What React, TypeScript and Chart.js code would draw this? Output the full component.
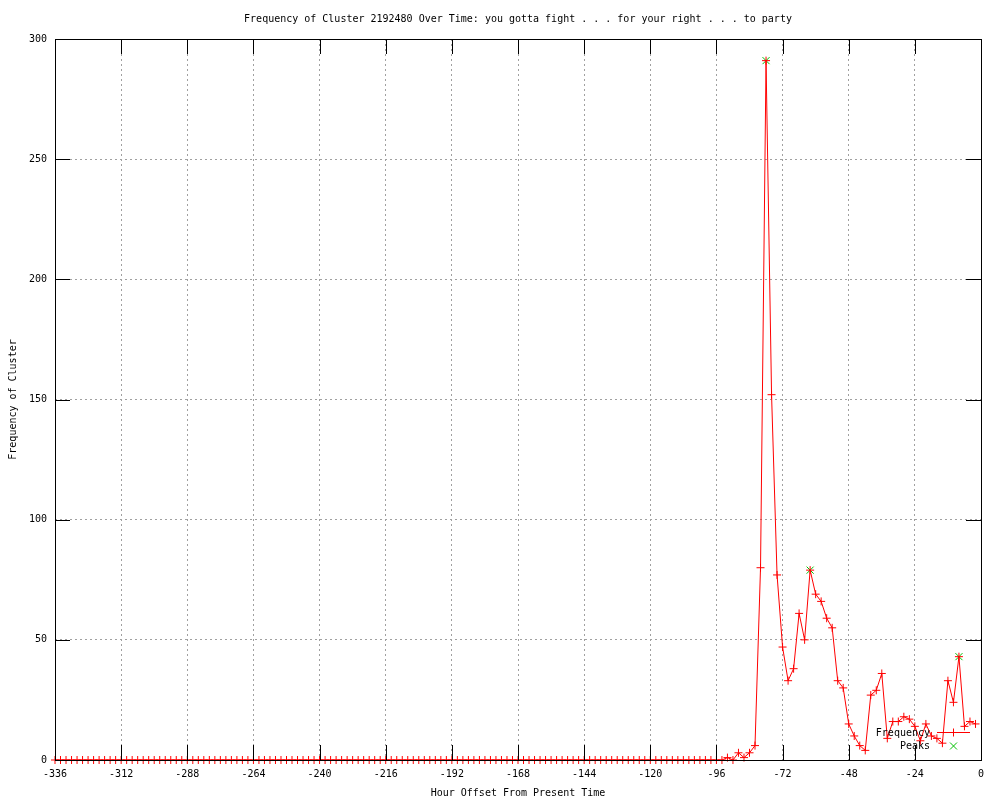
import React, { useEffect, useRef } from "react";
import { Chart, registerables } from "chart.js";

Chart.register(...registerables);

const TITLE = "Frequency of Cluster 2192480 Over Time: you gotta fight . . . for your right . . . to party";
const X_TITLE = "Hour Offset From Present Time";
const Y_TITLE = "Frequency of Cluster";
const SERIES_LABELS = ["Frequency", "Peaks"];

const X_MIN = -336;
const X_MAX = 0;
const X_STEP = 24;
const Y_MIN = 0;
const Y_MAX = 300;
const Y_STEP = 50;

// first sample hour and sample spacing (hours)
const START_HOUR = -336;
const STEP_HOURS = 2;

// frequency samples, every 2 hours from -336 to -2
const FREQUENCY = [
  0, 0, 0, 0, 0, 0, 0, 0, 0, 0,
  0, 0, 0, 0, 0, 0, 0, 0, 0, 0,
  0, 0, 0, 0, 0, 0, 0, 0, 0, 0,
  0, 0, 0, 0, 0, 0, 0, 0, 0, 0,
  0, 0, 0, 0, 0, 0, 0, 0, 0, 0,
  0, 0, 0, 0, 0, 0, 0, 0, 0, 0,
  0, 0, 0, 0, 0, 0, 0, 0, 0, 0,
  0, 0, 0, 0, 0, 0, 0, 0, 0, 0,
  0, 0, 0, 0, 0, 0, 0, 0, 0, 0,
  0, 0, 0, 0, 0, 0, 0, 0, 0, 0,
  0, 0, 0, 0, 0, 0, 0, 0, 0, 0,
  0, 0, 0, 0, 0, 0, 0, 0, 0, 0,
  0, 0,
  // -92 .. -2
  1, 0, 3, 1, 3, 6, 80, 291, 152, 77,
  47, 33, 38, 61, 50, 79, 69, 66, 59, 55,
  33, 30, 15, 10, 6, 4, 27, 29, 36, 9,
  16, 16, 18, 17, 14, 8, 15, 10, 9, 7,
  33, 24, 43, 14, 16, 15,
];

const PEAK_HOURS = [-78, -62, -8];
const PEAK_VALUES = [291, 79, 43];

const FONT = '"DejaVu Sans Mono", monospace';

export default function App() {
  const ref = useRef<HTMLCanvasElement | null>(null);

  useEffect(() => {
    const canvas = ref.current;
    if (!canvas) return;

    const freqData = FREQUENCY.map((v, i) => ({ x: START_HOUR + i * STEP_HOURS, y: v }));
    const peakData = PEAK_HOURS.map((h, i) => ({ x: h, y: PEAK_VALUES[i] }));

    const decor = {
      id: "gnuplotDecor",
      afterDraw(chart: any) {
        const { ctx, chartArea: a, scales } = chart;
        const xs = scales.x;
        const ys = scales.y;
        ctx.save();
        ctx.strokeStyle = "#000";
        ctx.lineWidth = 1;
        const TL = 15;
        ctx.beginPath();
        for (const t of xs.ticks) {
          const px = Math.round(xs.getPixelForValue(t.value)) + 0.5;
          ctx.moveTo(px, a.bottom);
          ctx.lineTo(px, a.bottom - TL);
          ctx.moveTo(px, a.top);
          ctx.lineTo(px, a.top + TL);
        }
        for (const t of ys.ticks) {
          const py = Math.round(ys.getPixelForValue(t.value)) + 0.5;
          ctx.moveTo(a.left, py);
          ctx.lineTo(a.left + TL, py);
          ctx.moveTo(a.right, py);
          ctx.lineTo(a.right - TL, py);
        }
        ctx.stroke();
        ctx.strokeRect(a.left + 0.5, a.top + 0.5, a.right - a.left, a.bottom - a.top);

        ctx.fillStyle = "#000";
        ctx.font = "10px " + FONT;
        ctx.textBaseline = "middle";
        ctx.textAlign = "center";
        ctx.fillText(TITLE, (a.left + a.right) / 2, 19);
        ctx.fillText(X_TITLE, (a.left + a.right) / 2, 793);
        ctx.save();
        ctx.translate(13, (a.top + a.bottom) / 2);
        ctx.rotate(-Math.PI / 2);
        ctx.fillText(Y_TITLE, 0, 0);
        ctx.restore();

        // legend
        ctx.textAlign = "right";
        ctx.fillText(SERIES_LABELS[0], 930, 733);
        ctx.fillText(SERIES_LABELS[1], 930, 746);
        ctx.strokeStyle = "#ff0000";
        ctx.beginPath();
        ctx.moveTo(937, 732.5);
        ctx.lineTo(970, 732.5);
        ctx.moveTo(953.5, 728.5);
        ctx.lineTo(953.5, 736.5);
        ctx.stroke();
        ctx.strokeStyle = "#00c000";
        ctx.beginPath();
        ctx.moveTo(950, 742.5);
        ctx.lineTo(957, 749.5);
        ctx.moveTo(957, 742.5);
        ctx.lineTo(950, 749.5);
        ctx.stroke();
        ctx.restore();
      },
    };

    const chart = new Chart(canvas, {
      type: "line",
      data: {
        datasets: [
          {
            label: SERIES_LABELS[0],
            data: freqData,
            borderColor: "#ff0000",
            backgroundColor: "#ff0000",
            borderWidth: 1,
            pointStyle: "cross",
            pointRadius: 4,
            pointBorderWidth: 1,
            pointBorderColor: "#ff0000",
            tension: 0,
            fill: false,
            clip: false as any,
          },
          {
            label: SERIES_LABELS[1],
            data: peakData,
            showLine: false,
            borderColor: "#00c000",
            backgroundColor: "#00c000",
            pointStyle: "crossRot",
            pointRadius: 5,
            pointBorderWidth: 1,
            pointBorderColor: "#00c000",
            clip: false as any,
          },
        ],
      },
      options: {
        responsive: false,
        animation: false,
        devicePixelRatio: 1,
        layout: { padding: { left: 0, right: 19, top: 39, bottom: 0 } },
        plugins: {
          legend: { display: false },
          title: { display: false },
          tooltip: { enabled: false },
        },
        scales: {
          x: {
            type: "linear",
            min: X_MIN,
            max: X_MAX,
            afterFit: (s: any) => {
              s.height = 40;
            },
            ticks: {
              stepSize: X_STEP,
              color: "#000",
              font: { family: FONT, size: 10 },
              padding: 8,
              maxRotation: 0,
              autoSkip: false,
            },
            grid: { color: "#a0a0a0", lineWidth: 1, drawTicks: false },
            border: { display: false, dash: [2, 3] },
          },
          y: {
            type: "linear",
            min: Y_MIN,
            max: Y_MAX,
            afterFit: (s: any) => {
              s.width = 55;
            },
            ticks: {
              stepSize: Y_STEP,
              color: "#000",
              font: { family: FONT, size: 10 },
              padding: 8,
            },
            grid: { color: "#a0a0a0", lineWidth: 1, drawTicks: false },
            border: { display: false, dash: [2, 3] },
          },
        },
      },
      plugins: [decor],
    });

    return () => chart.destroy();
  }, []);

  return (
    <div style={{ position: "absolute", left: 0, top: 0, width: 1000, height: 800, background: "#fff" }}>
      <canvas ref={ref} width={1000} height={800} style={{ display: "block" }} />
    </div>
  );
}
